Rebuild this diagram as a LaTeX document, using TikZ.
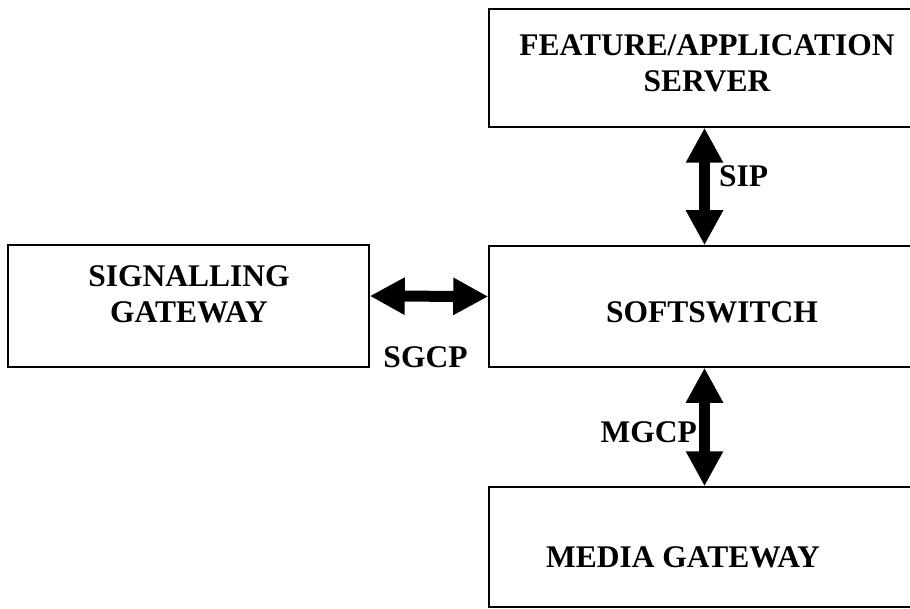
\documentclass[tikz,border=0pt]{standalone}
\usepackage{fontspec}
\setmainfont{Liberation Serif}
\usetikzlibrary{arrows.meta}
\tikzset{
  box/.style={draw=black, line width=1.5pt, rectangle, inner sep=0pt},
  txt/.style={inner sep=0pt, align=center, font=\fontsize{31.5}{36}\selectfont\bfseries},
  dblarrow/.style={line width=11pt,
    {Triangle[width=35pt,length=35pt]}-{Triangle[width=35pt,length=35pt]}}
}
\begin{document}
\begin{tikzpicture}[x=1pt,y=-1pt]
  \clip (0,0) rectangle (910,609);
  \fill[white] (0,0) rectangle (910,609);

  % boxes
  \node[box, minimum width=431pt, minimum height=118pt] (fas) at (704.5,68) {};
  \node[box, minimum width=361pt, minimum height=122pt] (sg)  at (188.5,306) {};
  \node[box, minimum width=431pt, minimum height=121pt] (ss)  at (704.5,306.5) {};
  \node[box, minimum width=431pt, minimum height=120pt] (mg)  at (704.5,547) {};

  % box titles
  \node[txt] (fastxt) at (707,63) {FEATURE/APPLICATION\\SERVER};
  \node[txt] (sgtxt)  at (189,294) {SIGNALLING\\GATEWAY};
  \node[txt] (sstxt)  at (712,312) {SOFTSWITCH};
  \node[txt] (mgtxt)  at (683,557) {MEDIA GATEWAY};

  % protocol links
  \draw[dblarrow] (fas.south) -- (ss.north);
  \draw[dblarrow] (ss.south) -- (mg.north);
  \draw[dblarrow] ([yshift=10pt]sg.east) -- ([yshift=10pt]ss.west);

  % protocol labels
  \node[txt, anchor=west] (sip)  at (719,176) {SIP};
  \node[txt, anchor=east] (mgcp) at (697,432) {MGCP};
  \node[txt] (sgcp) at (425.5,357) {SGCP};
\end{tikzpicture}
\end{document}
